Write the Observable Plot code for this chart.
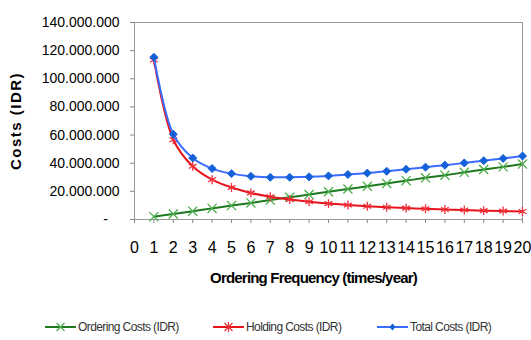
<!DOCTYPE html>
<html><head><meta charset="utf-8">
<script src="https://cdn.jsdelivr.net/npm/d3@7"></script>
<script src="https://cdn.jsdelivr.net/npm/@observablehq/plot@0.6"></script>
<style>
body{margin:0;background:#fff;}
#wrap{position:relative;width:531px;height:340px;overflow:hidden;font-family:"Liberation Sans",Arial,sans-serif;background:#fff;}
#chart{position:absolute;left:0;top:0;}
#legend{position:absolute;left:0;top:319px;width:531px;height:16px;}
.item{position:absolute;top:0;display:flex;align-items:center;height:16px;font-size:12px;letter-spacing:-0.6px;color:#333;white-space:nowrap;}
.item svg{margin-right:2px;}
g[aria-description="xtitle"] text{letter-spacing:-0.8px;}
g[aria-description="ytitle"] text{letter-spacing:1.5px;}
</style>
</head><body>
<div id="wrap"><div id="chart"></div><div id="legend"></div></div>
<script>
const frequency = [1,2,3,4,5,6,7,8,9,10,11,12,13,14,15,16,17,18,19,20];
const orderingCosts = [2.0e6,3.9e6,5.9e6,7.9e6,9.9e6,11.8e6,13.8e6,15.8e6,17.7e6,19.7e6,21.7e6,23.6e6,25.6e6,27.6e6,29.6e6,31.5e6,33.5e6,35.5e6,37.4e6,39.4e6];
const holdingCosts = [113.3e6,56.7e6,37.8e6,28.3e6,22.7e6,18.9e6,16.2e6,14.2e6,12.6e6,11.3e6,10.3e6,9.4e6,8.7e6,8.1e6,7.6e6,7.1e6,6.7e6,6.3e6,6.0e6,5.7e6];
const totalCosts = [115.3e6,60.6e6,43.7e6,36.2e6,32.6e6,30.7e6,30.0e6,30.0e6,30.3e6,31.0e6,32.0e6,33.0e6,34.3e6,35.7e6,37.2e6,38.6e6,40.2e6,41.8e6,43.4e6,45.1e6];
const seriesNames = ["Ordering Costs (IDR)","Holding Costs (IDR)","Total Costs (IDR)"];
const xTicks = [0,1,2,3,4,5,6,7,8,9,10,11,12,13,14,15,16,17,18,19,20];
const yTicks = [0,20000000,40000000,60000000,80000000,100000000,120000000,140000000];
const xTitle = "Ordering Frequency (times/year)";
const yTitle = "Costs (IDR)";

const lineColors = ["#1f7a1f","#e8141c","#3a6cff"];
const markColors = ["#4cae4c","#f0303a","#1460d8"];
const symbols = ["times","asterisk","diamond2"];

const seriesValues = [orderingCosts, holdingCosts, totalCosts];
const rows = [];
seriesValues.forEach((vals, s) => vals.forEach((v, i) => rows.push({x: frequency[i], y: v, series: seriesNames[s]})));

const loc = d3.formatLocale({decimal: ",", thousands: ".", grouping: [3], currency: ["", ""]});
const fmt = d => d === 0 ? "-\u00a0\u00a0\u00a0" : loc.format(",")(d);

const marks = [
  Plot.frame({stroke: "#999"}),
  Plot.axisY({ticks: yTicks, tickSize: 4, tickPadding: 11, tickFormat: fmt, stroke: "#888", fill: "#000", fontSize: 14, label: null}),
  Plot.axisX({ticks: xTicks, tickSize: 4, tickPadding: 18, tickFormat: d => String(d), stroke: "#888", fill: "#000", fontSize: 16, label: null}),
];
seriesNames.forEach((name, s) => {
  const data = rows.filter(r => r.series === name);
  marks.push(Plot.line(data, {x: "x", y: "y", stroke: lineColors[s], strokeWidth: 2, curve: "catmull-rom"}));
  marks.push(Plot.dot(data, {x: "x", y: "y", symbol: symbols[s], r: s === 2 ? 3.6 : 4.2,
    stroke: markColors[s], fill: s === 2 ? markColors[s] : "none", strokeWidth: s === 2 ? 1 : 1.3}));
});
marks.push(Plot.text([xTitle], {frameAnchor: "bottom", dx: -15, dy: 63, fontWeight: "bold", fontSize: 15, fill: "#000", ariaDescription: "xtitle"}));
marks.push(Plot.text([yTitle], {frameAnchor: "left", textAnchor: "middle", dx: -118, rotate: -90, fontWeight: "bold", fontSize: 15, fill: "#000", ariaDescription: "ytitle"}));

const chart = Plot.plot({
  width: 531, height: 300,
  marginLeft: 134, marginRight: 9, marginTop: 22, marginBottom: 81,
  x: {domain: [0, 20]},
  y: {domain: [0, 140000000]},
  style: {fontFamily: '"Liberation Sans", Arial, sans-serif', fontSize: "14px", color: "#000", background: "#fff"},
  marks
});
document.getElementById("chart").appendChild(chart);

// legend
const legendLefts = [45, 213, 377];
const legendSym = [
  '<path d="M11.5,2 L19.5,10 M19.5,2 L11.5,10" stroke="COL" stroke-width="1.2" fill="none"/>',
  '<path d="M11.5,2 L19.5,10 M19.5,2 L11.5,10 M15.5,1 L15.5,11" stroke="COL" stroke-width="1.2" fill="none"/>',
  '<path d="M15.5,2.5 L18.5,6 L15.5,9.5 L12.5,6 Z" fill="COL"/>'
];
const legend = document.getElementById("legend");
seriesNames.forEach((name, s) => {
  const item = document.createElement("div");
  item.className = "item";
  item.style.left = legendLefts[s] + "px";
  item.innerHTML = `<svg width="31" height="12"><line x1="0" y1="6" x2="31" y2="6" stroke="${lineColors[s]}" stroke-width="2"/>${legendSym[s].replace(/COL/g, markColors[s])}</svg><span>${name}</span>`;
  legend.appendChild(item);
});
</script>
</body></html>
